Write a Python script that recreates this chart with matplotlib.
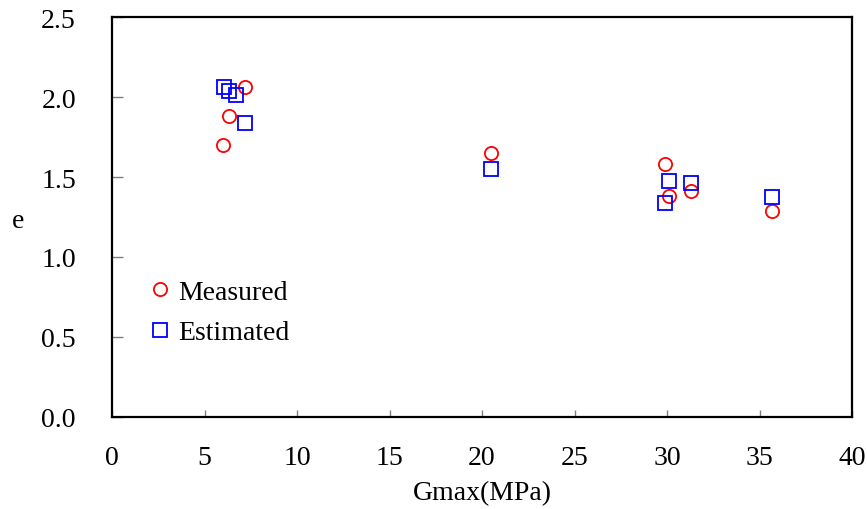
import numpy as np
import matplotlib
matplotlib.use('Agg')
import matplotlib.pyplot as plt

plt.rcParams['font.family'] = ['Liberation Serif', 'DejaVu Serif']

# Gmax (MPa) and void ratio e
meas_g = [7.2, 6.3, 6.0, 20.5, 29.9, 30.1, 31.3, 35.7]
meas_e = [2.06, 1.88, 1.70, 1.65, 1.58, 1.38, 1.41, 1.29]

est_g = [6.05, 6.3, 6.7, 7.2, 20.5, 30.1, 29.9, 31.3, 35.7]
est_e = [2.06, 2.04, 2.01, 1.84, 1.55, 1.475, 1.34, 1.46, 1.375]

fig = plt.figure(figsize=(8.67, 5.10), dpi=100)
ax = fig.add_axes([0.1292, 0.1804, 0.8535, 0.7843])

ax.plot(meas_g, meas_e, 'o', ms=9.5, mfc='none', mec='red', mew=1.3,
        linestyle='none', label='Measured')
ax.plot(est_g, est_e, 's', ms=9.5, mfc='none', mec='blue', mew=1.3,
        linestyle='none', label='Estimated')

ax.set_xlim(0, 40)
ax.set_ylim(0, 2.5)
ax.set_xticks(np.arange(0, 41, 5))
ax.set_yticks(np.arange(0, 2.51, 0.5))
ax.set_yticklabels(['%.1f' % v for v in np.arange(0, 2.51, 0.5)])

for sp in ax.spines.values():
    sp.set_linewidth(1.6)
    sp.set_color('black')

ax.tick_params(axis='both', direction='in', color='gray', labelsize=20)
ax.tick_params(axis='x', length=5, width=1, pad=20)
ax.tick_params(axis='y', length=8, width=1, pad=26)

ax.set_xlabel('Gmax(MPa)', fontsize=20, va='center')
ax.xaxis.set_label_coords(0.5, -0.19)
ax.set_ylabel('e', fontsize=20, rotation=0, va='center', ha='center')
ax.yaxis.set_label_coords(-0.127, 0.49)

ax.legend(loc='center left', bbox_to_anchor=(0.046, 0.262), frameon=False,
          fontsize=20, handlelength=1.0, handletextpad=0.15,
          labelspacing=0.55, borderpad=0, borderaxespad=0)

fig.savefig('out.png', dpi=100)
